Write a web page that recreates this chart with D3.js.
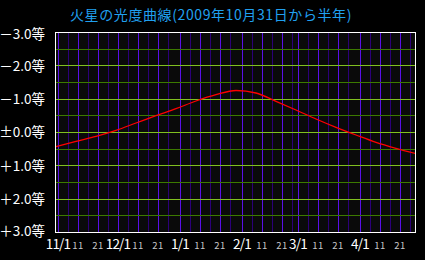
<!DOCTYPE html>
<html><head><meta charset="utf-8">
<script src="https://cdn.jsdelivr.net/npm/d3@7"></script>
<style>
html,body{margin:0;padding:0;background:#000;}
svg{display:block;}
</style></head>
<body><svg id="c" width="425" height="260"></svg>
<script>
const titleText = "火星の光度曲線(2009年10月31日から半年)";
// observation dates (2009-10-31 .. 2010-04-29)
const dates = ["2009-10-31","2009-11-10","2009-11-20","2009-11-30","2009-12-10","2009-12-20","2009-12-30",
  "2010-01-09","2010-01-19","2010-01-29","2010-02-08","2010-02-18","2010-02-28","2010-03-10",
  "2010-03-20","2010-03-30","2010-04-09","2010-04-19","2010-04-29"];
// magnitude values
const magnitudes = [0.44,0.28,0.13,-0.05,-0.27,-0.49,-0.70,-0.93,-1.12,-1.245,-1.17,-0.92,-0.66,-0.39,-0.14,0.09,0.31,0.49,0.65];
const yTickValues = [-3,-2,-1,0,1,2,3];
const yTickLabels = ["－3.0等","－2.0等","－1.0等","±0.0等","＋1.0等","＋2.0等","＋3.0等"];
const monthTickLabels = ["11/1","12/1","1/1","2/1","3/1","4/1"];
const dayTickLabels = ["11","21"];

const svg = d3.select("#c");
const L=55, R=415, T=32, B=232;
const parse = d3.timeParse("%Y-%m-%d");
const x = d3.scaleTime()
  .domain([new Date(2009,9,30,12), new Date(2010,3,28,12)])
  .range([L,R]);
const y = d3.scaleLinear().domain([-3,3]).range([T,B]);

svg.append("rect").attr("x",0).attr("y",0).attr("width",425).attr("height",260).attr("fill","#000");
svg.append("rect").attr("x",L).attr("y",T).attr("width",R-L).attr("height",B-T).attr("fill","#0a0a0a");

// vertical grid: days 1,11,21 bright; 6,16,26 dim
const allDays = d3.timeDay.range(new Date(2009,9,30), new Date(2010,3,29));
const gridDays = allDays.filter(d => [1,6,11,16,21,26].includes(d.getDate()));
svg.append("g").selectAll("line").data(gridDays).join("line")
  .attr("x1", d => Math.round(x(d))+0.5).attr("x2", d => Math.round(x(d))+0.5)
  .attr("y1", T).attr("y2", B)
  .attr("stroke", d => [1,11,21].includes(d.getDate()) ? "#5a10e8" : "#2c0078")
  .attr("stroke-width",1);

// horizontal grid every 0.5
const hVals = d3.range(-2.5, 3, 0.5);
svg.append("g").selectAll("line").data(hVals).join("line")
  .attr("x1", L).attr("x2", R)
  .attr("y1", d => Math.round(y(d))+0.5).attr("y2", d => Math.round(y(d))+0.5)
  .attr("stroke", d => Number.isInteger(d) ? "#80c020" : "#3c7a00")
  .attr("stroke-width",1);

// curve
const data = dates.map((d,i)=>({date:parse(d), mag:magnitudes[i]}));
svg.append("defs").append("clipPath").attr("id","clip").append("rect")
  .attr("x",L).attr("y",T).attr("width",R-L).attr("height",B-T);
svg.append("path").datum(data)
  .attr("clip-path","url(#clip)")
  .attr("fill","none").attr("stroke","#ff0000").attr("stroke-width",1.3)
  .attr("d", d3.line().x(d=>x(d.date)).y(d=>y(d.mag)).curve(d3.curveMonotoneX));

// frame
svg.append("rect").attr("x",L+0.5).attr("y",T+0.5).attr("width",R-L).attr("height",B-T)
  .attr("fill","none").attr("stroke","#fff").attr("stroke-width",1);

// y labels
const font = "'Noto Sans CJK JP', 'Noto Sans', sans-serif";
const yAxis = d3.axisLeft(y).tickValues(yTickValues).tickSize(0).tickPadding(0)
  .tickFormat((d,i)=>yTickLabels[i]);
const gy = svg.append("g").attr("transform",`translate(45,0)`).call(yAxis);
gy.select(".domain").remove();
gy.selectAll("text").attr("fill","#fff").style("font-family",font).style("font-size","13.5px")
  .attr("dy","0.36em").attr("y", d => d===-3 ? 2 : (d===3 ? -1 : 0));

// x labels
const monthDates = [new Date(2009,10,1),new Date(2009,11,1),new Date(2010,0,1),new Date(2010,1,1),new Date(2010,2,1),new Date(2010,3,1)];
svg.append("g").selectAll("text").data(monthDates).join("text")
  .attr("x", d => x(d)).attr("y", 248.5).attr("text-anchor","middle")
  .attr("fill","#fff").style("font-family",font).style("font-size","13.5px")
  .style("letter-spacing","-0.8px")
  .text((d,i)=>monthTickLabels[i]);
const smallDates = allDays.filter(d => d.getDate()===11 || d.getDate()===21);
svg.append("g").selectAll("text").data(smallDates).join("text")
  .attr("x", d => x(d)).attr("y", 248.5).attr("text-anchor","middle")
  .attr("fill","#c8c8c8").style("font-family",font).style("font-size","9.5px")
  .style("letter-spacing","0.5px")
  .text(d => dayTickLabels[d.getDate()===11 ? 0 : 1]);

// title
svg.append("text").attr("x",211).attr("y",20).attr("text-anchor","middle")
  .attr("fill","#20a0f0").style("font-family",font).style("font-size","14px")
  .style("letter-spacing","0.6px")
  .text(titleText);
</script></body></html>
